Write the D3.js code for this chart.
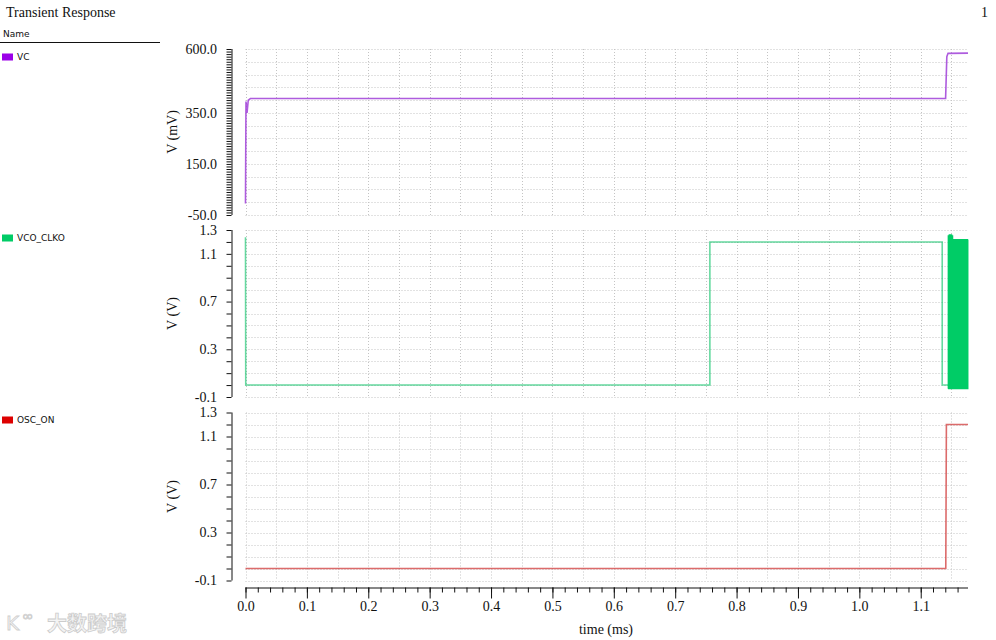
<!DOCTYPE html>
<html><head><meta charset="utf-8">
<script src="https://cdn.jsdelivr.net/npm/d3@7"></script>
<style>
body{margin:0;background:#fff;}
svg{display:block;}
.serif{font-family:"Liberation Serif","Times New Roman",serif;}
.sans{font-family:"DejaVu Sans",sans-serif;}
</style></head>
<body><svg id="c" width="996" height="640"></svg>
<script>
// ---------- data ----------
const title = "Transient Response";
const pageNo = "1";
const seriesNames = ["VC", "VCO_CLKO", "OSC_ON"];
const seriesColors = ["#9b00e8", "#00cc66", "#dd0000"];
const yUnits = ["V (mV)", "V (V)", "V (V)"];
const yDomains = [[-50, 600], [-0.1, 1.3], [-0.1, 1.3]];
const yTickLabels = [[600, 350, 150, -50], [1.3, 1.1, 0.7, 0.3, -0.1], [1.3, 1.1, 0.7, 0.3, -0.1]];
const xTickLabels = [0.0, 0.1, 0.2, 0.3, 0.4, 0.5, 0.6, 0.7, 0.8, 0.9, 1.0, 1.1];
const xDomain = [0, 1.177];

// VC (mV)
const vcT = [0, 0.0008, 0.0025, 0.0045, 0.008, 0.5, 1.1405, 1.1425, 1.1445, 1.177];
const vcV = [-5, 394, 350, 400, 406, 406, 406, 570, 583, 584];

// VCO_CLKO (V) before the burst
const clkT = [0, 0.0004, 0.7565, 0.7565, 1.1350, 1.1350, 1.1448];
const clkV = [1.24, 0.0, 0.0, 1.2, 1.2, 0.0, 0.0];
// VCO_CLKO burst: toggle times and high levels
const burstT = [1.1448, 1.1456, 1.1464, 1.1472, 1.1480, 1.1488, 1.1496, 1.1504, 1.1512, 1.1520,
  1.1528, 1.1536, 1.1544, 1.1552, 1.1560, 1.1568, 1.1576, 1.1584, 1.1592, 1.1600,
  1.1608, 1.1616, 1.1624, 1.1632, 1.1640, 1.1648, 1.1656, 1.1664, 1.1672, 1.1680,
  1.1688, 1.1696, 1.1704, 1.1712, 1.1720, 1.1728, 1.1736, 1.1744, 1.1752, 1.1760,
  1.1768];
const burstHigh = [1.25, 1.26, 1.26, 1.26, 1.25, 1.22, 1.22, 1.22, 1.22, 1.22, 1.22, 1.22,
  1.22, 1.22, 1.22, 1.22, 1.22, 1.22, 1.22, 1.22, 1.22];
const burstLow = -0.03;

// OSC_ON (V)
const oscT = [0, 1.1408, 1.1418, 1.177];
const oscV = [0.0, 0.0, 1.2, 1.2];

// ---------- layout ----------
const svg = d3.select("#c");
const xLeft = 245.5, xRight = 968, axisX = 231.5;
const panels = [
  {top: 49, bottom: 215, legendY: 57},
  {top: 230, bottom: 397, legendY: 238},
  {top: 412.5, bottom: 580.5, legendY: 420}
];
const xAxisY = 587.5;

const x = d3.scaleLinear().domain(xDomain).range([xLeft, xRight]);
const fmt1 = v => d3.format(".1f")(v).replace("\u2212", "-");

// title
svg.append("text").attr("class", "serif").attr("x", 6).attr("y", 17)
  .attr("font-size", 14).attr("fill", "#111").text(title);
svg.append("text").attr("class", "serif").attr("x", 988).attr("y", 17)
  .attr("font-size", 14).attr("text-anchor", "end").attr("fill", "#111").text(pageNo);

// legend header
svg.append("text").attr("class", "sans").attr("x", 3).attr("y", 37)
  .attr("font-size", 9).attr("fill", "#111").text("Name");
svg.append("line").attr("x1", 0).attr("x2", 160).attr("y1", 42.5).attr("y2", 42.5)
  .attr("stroke", "#111").attr("stroke-width", 1);

const lineGen = d3.line();

panels.forEach((p, i) => {
  const y = d3.scaleLinear().domain(yDomains[i]).range([p.bottom, p.top]);
  p.y = y;
  const g = svg.append("g");

  // legend entry
  svg.append("rect").attr("x", 2).attr("y", p.legendY - 3.5).attr("width", 11).attr("height", 7)
    .attr("fill", seriesColors[i]);
  svg.append("text").attr("class", "sans").attr("x", 17).attr("y", p.legendY + 3.2)
    .attr("font-size", 9).attr("fill", "#111").text(seriesNames[i]);

  // grid
  const step = i === 0 ? 50 : 0.1;
  const hGrid = d3.range(yDomains[i][0], yDomains[i][1] + step / 2, step);
  g.selectAll(".hg").data(hGrid).join("line")
    .attr("x1", xLeft).attr("x2", xRight)
    .attr("y1", d => Math.round(y(d)) + 0.5).attr("y2", d => Math.round(y(d)) + 0.5)
    .attr("stroke", "#c4c4c4").attr("stroke-width", 1).attr("stroke-dasharray", "1,2");
  const vGrid = d3.range(0, 1.1501, 0.05);
  g.selectAll(".vg").data(vGrid).join("line")
    .attr("x1", d => Math.round(x(d)) + 0.5).attr("x2", d => Math.round(x(d)) + 0.5)
    .attr("y1", p.top).attr("y2", p.bottom)
    .attr("stroke", "#c4c4c4").attr("stroke-width", 1).attr("stroke-dasharray", "1,2");

  // y axis
  const minorStep = i === 0 ? 10 : 0.1;
  const ticks = d3.range(yDomains[i][0], yDomains[i][1] + minorStep / 2, minorStep);
  const ax = d3.axisLeft(y).tickValues(ticks).tickSize(5).tickFormat("");
  const axG = svg.append("g").attr("transform", `translate(${axisX},0)`).call(ax);
  axG.select(".domain").attr("stroke", "#111").attr("d", `M0.5,${p.top}V${p.bottom}`);
  axG.selectAll(".tick line").attr("stroke", "#111");
  svg.selectAll(null).data(yTickLabels[i]).join("text").attr("class", "serif")
    .attr("x", 217).attr("y", d => y(d)).attr("dy", "0.35em")
    .attr("text-anchor", "end").attr("font-size", 14).attr("fill", "#111")
    .text(d => fmt1(d));
  svg.append("text").attr("class", "serif")
    .attr("transform", `translate(177,${(p.top + p.bottom) / 2}) rotate(-90)`)
    .attr("text-anchor", "middle").attr("font-size", 14).attr("fill", "#111")
    .text(yUnits[i]);
});

// x axis
const xMinor = d3.range(0, 1.1701, 0.02);
const xAxG = svg.append("g").attr("transform", `translate(0,${xAxisY})`)
  .call(d3.axisBottom(x).tickValues(xMinor).tickSize(5).tickFormat(""));
xAxG.select(".domain").attr("stroke", "#111").attr("d", `M${xLeft},0.5H${xRight}`);
xAxG.selectAll(".tick line").attr("stroke", "#111");
const xMajG = svg.append("g").attr("transform", `translate(0,${xAxisY})`)
  .attr("font-family", "Liberation Serif, serif")
  .call(d3.axisBottom(x).tickValues(xTickLabels).tickSize(11).tickPadding(3).tickFormat(fmt1));
xMajG.attr("font-family", "Liberation Serif, serif").attr("font-size", 14);
xMajG.select(".domain").remove();
xMajG.selectAll(".tick line").attr("stroke", "#111");
xMajG.selectAll(".tick text").attr("fill", "#111");
svg.append("text").attr("class", "serif").attr("x", 606).attr("y", 634)
  .attr("text-anchor", "middle").attr("font-size", 14).attr("fill", "#111").text("time (ms)");

// ---------- series ----------
const p0 = panels[0], p1 = panels[1], p2 = panels[2];
svg.append("path").attr("d", lineGen(vcT.map((t, k) => [x(t), p0.y(vcV[k])])))
  .attr("fill", "none").attr("stroke", "#a040d8").attr("stroke-width", 1.6).attr("stroke-opacity", 0.85);

svg.append("path").attr("d", lineGen(clkT.map((t, k) => [x(t), p1.y(clkV[k])])))
  .attr("fill", "none").attr("stroke", "#00c060").attr("stroke-width", 1.6).attr("stroke-opacity", 0.6);

// burst: stepped path from toggle times
const burstPts = [];
burstT.forEach((t, k) => {
  const hv = burstHigh[Math.floor(k / 2)];
  const hi = hv !== undefined ? hv : 1.22;
  if (k % 2 === 0) { burstPts.push([x(t), p1.y(burstLow)]); burstPts.push([x(t), p1.y(hi)]); }
  else { burstPts.push([x(t), p1.y(hi)]); burstPts.push([x(t), p1.y(burstLow)]); }
});
svg.append("path").attr("d", lineGen(burstPts))
  .attr("fill", "none").attr("stroke", "#00cc66").attr("stroke-width", 1.2);

svg.append("path").attr("d", lineGen(oscT.map((t, k) => [x(t), p2.y(oscV[k])])))
  .attr("fill", "none").attr("stroke", "#d03a3a").attr("stroke-width", 1.6).attr("stroke-opacity", 0.75);

// watermark
svg.append("text").attr("x", 6).attr("y", 630).attr("font-family", "DejaVu Sans, sans-serif")
  .attr("font-size", 20).attr("fill", "#f2f2f2").attr("stroke", "#cfcfcf").attr("stroke-width", 0.8)
  .text("K");
svg.append("text").attr("x", 22).attr("y", 621).attr("font-family", "DejaVu Sans, sans-serif")
  .attr("font-size", 14).attr("fill", "#f2f2f2").attr("stroke", "#cfcfcf").attr("stroke-width", 0.8)
  .text("∞");
svg.append("text").attr("x", 47).attr("y", 631).attr("font-family", "Noto Sans CJK SC, sans-serif")
  .attr("font-size", 20).attr("font-weight", "bold").attr("fill", "#f4f4f4").attr("stroke", "#cccccc")
  .attr("stroke-width", 0.8).text("大数跨境");
</script></body></html>
